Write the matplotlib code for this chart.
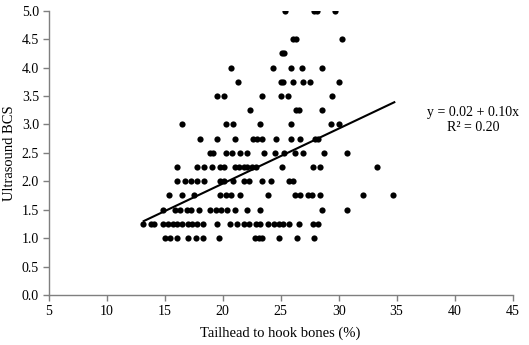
import numpy as np
import matplotlib
matplotlib.use("Agg")
import matplotlib.pyplot as plt

plt.rcParams["font.family"] = ["Liberation Serif", "DejaVu Serif"]
plt.rcParams["font.size"] = 10

# x positions (tailhead to hook bones, %) for each BCS level
rows = {
    5.00: [25.4, 27.9, 28.1, 29.7],
    4.50: [26.1, 26.3, 30.3],
    4.25: [25.1, 25.3],
    4.00: [20.7, 24.3, 25.9, 26.8, 28.6],
    3.75: [21.3, 25.0, 25.2, 26.1, 26.9, 27.5, 30.0],
    3.50: [19.5, 20.1, 23.4, 25.0, 25.6, 29.4],
    3.25: [22.4, 26.3, 26.6, 28.6],
    3.00: [16.5, 20.3, 20.9, 23.2, 25.9, 29.3, 30.0],
    2.75: [18.05, 19.5, 21.1, 22.6, 23.0, 23.4, 24.6, 25.9, 26.7, 28.0, 28.2],
    2.50: [18.9, 19.2, 20.3, 20.8, 21.5, 22.1, 23.6, 24.5, 25.3, 26.2, 26.9,
           28.7, 30.7],
    2.25: [16.1, 17.8, 18.4, 19.1, 19.8, 20.1, 21.1, 21.4, 21.8, 22.1, 22.5,
           22.9, 25.1, 27.8, 28.4, 33.3],
    2.00: [16.1, 16.75, 17.3, 17.8, 18.4, 19.8, 20.1, 20.9, 21.8, 22.3, 23.4,
           24.2, 25.7, 26.1],
    1.75: [15.4, 16.5, 17.5, 19.8, 20.3, 20.7, 21.5, 23.9, 26.2, 26.7, 27.4,
           27.7, 28.4, 32.1, 34.7],
    1.50: [14.9, 15.9, 16.3, 16.9, 17.3, 18.0, 18.9, 19.4, 19.9, 20.4, 21.1,
           22.1, 23.2, 28.6, 30.7],
    1.25: [13.15, 13.8, 14.1, 14.9, 15.3, 15.7, 16.1, 16.5, 17.0, 17.4, 17.8,
           18.3, 19.5, 20.6, 21.2, 21.8, 22.3, 22.9, 23.2, 23.9, 24.4, 24.9,
           25.2, 25.7, 26.6, 27.8, 28.2],
    1.00: [15.0, 15.5, 16.1, 17.0, 17.7, 18.3, 19.7, 22.8, 23.1, 23.4, 24.9,
           26.4, 27.9],
}

# fitted line ends as drawn
line_x = [13.2, 34.8]
line_y = [1.30, 3.39]

x_ticks = [5, 10, 15, 20, 25, 30, 35, 40, 45]
y_ticks = [0.0, 0.5, 1.0, 1.5, 2.0, 2.5, 3.0, 3.5, 4.0, 4.5, 5.0]

xs = np.concatenate([np.array(v) for v in rows.values()])
ys = np.concatenate([np.full(len(v), k) for k, v in rows.items()])

fig = plt.figure(figsize=(5.29, 3.45), dpi=100)
ax = fig.add_axes([0.092, 0.145, 0.877, 0.824])

ax.scatter(xs, ys, s=20, color="black", linewidths=0, zorder=3)
ax.plot(line_x, line_y, color="black", lw=1.5, zorder=4)

ax.text(41.6, 3.08, "y = 0.02 + 0.10x\nR² = 0.20", ha="center", va="center",
        fontsize=10, linespacing=1.15)

ax.set_xlim(5, 45)
ax.set_ylim(0, 5)
ax.set_xticks(x_ticks)
ax.set_yticks(y_ticks)
ax.set_yticklabels([f"{v:.1f}" for v in y_ticks])
ax.set_xlabel("Tailhead to hook bones (%)", fontsize=10.5, labelpad=6)
ax.set_ylabel("Ultrasound BCS", fontsize=10.5, labelpad=4)

for s in ["top", "right"]:
    ax.spines[s].set_visible(False)
for s in ["left", "bottom"]:
    ax.spines[s].set_color("#7f7f7f")
    ax.spines[s].set_linewidth(1.0)
ax.tick_params(direction="out", length=4, width=1.0, color="#7f7f7f",
               labelsize=10, pad=3)

fig.savefig("out.png", dpi=100)
